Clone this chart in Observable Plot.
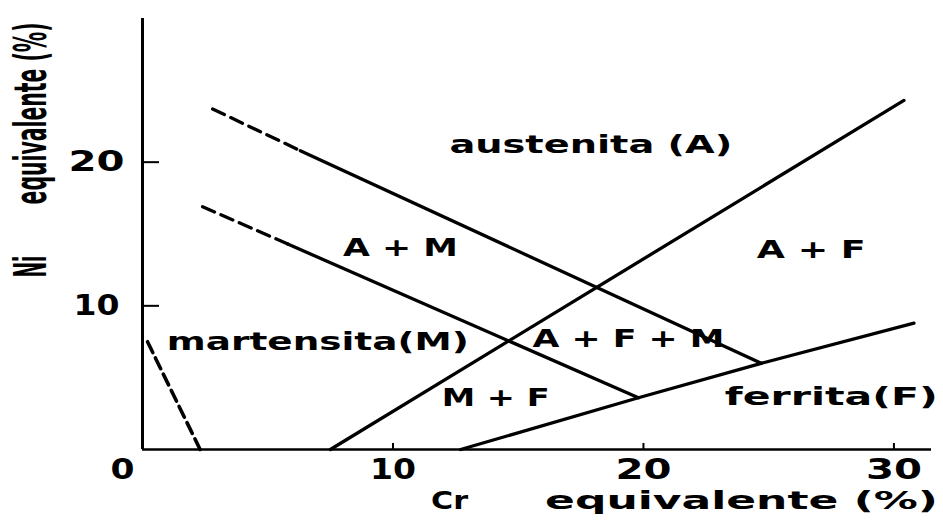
<!DOCTYPE html>
<html>
<head>
<meta charset="utf-8">
<script src="https://cdn.jsdelivr.net/npm/d3@7"></script>
<script src="https://cdn.jsdelivr.net/npm/@observablehq/plot@0.6"></script>
<style>
  html, body { margin: 0; padding: 0; background: #fff; }
</style>
</head>
<body>
<div id="chart"></div>
<script>
// Schaeffler-type constitution diagram: Cr equivalent vs Ni equivalent (%)

// Phase boundaries (Cr eq %, Ni eq %)
const austeniteDashedCr = [2.8, 6.3];
const austeniteDashedNi = [23.7, 20.8];
const austeniteCr = [6.3, 24.7];
const austeniteNi = [20.8, 6.0];

const martensiteDashedCr = [2.4, 5.8];
const martensiteDashedNi = [16.9, 14.3];
const martensiteCr = [5.8, 19.8];
const martensiteNi = [14.3, 3.6];

const ferriteOnsetCr = [7.5, 30.4];
const ferriteOnsetNi = [0, 24.3];

const ferriteCr = [12.7, 19.8, 24.7, 30.8];
const ferriteNi = [0, 3.6, 6.0, 8.8];

const lowNiDashedCr = [0.2, 2.3];
const lowNiDashedNi = [7.5, 0];

// Phase fields
const regionNames = ["austenita (A)", "A + M", "A + F", "martensita(M)", "A + F + M", "M + F", "ferrita(F)"];
const regionCr = [17.9, 10.3, 26.7, 7.0, 19.4, 14.1, 27.5];
const regionNi = [21.2, 14.0, 13.85, 7.45, 7.7, 3.55, 3.6];

// Axis ticks
const crTicks = [0, 10, 20, 30];
const niTicks = [10, 20];

const pts = (xs, ys) => xs.map((cr, i) => ({cr, ni: ys[i]}));
const regions = regionNames.map((name, i) => ({name, cr: regionCr[i], ni: regionNi[i]}));

const W = 943, H = 522;
const M = {left: 142, right: 12, top: 18, bottom: 73};
const plotW = W - M.left - M.right;
const plotH = H - M.top - M.bottom;
const FONT = "DejaVu Sans, Verdana, sans-serif";

const solid = {x: "cr", y: "ni", stroke: "#000", strokeWidth: 3.3};
const dashed = {...solid, strokeDasharray: "13,7"};

const svg = Plot.plot({
  width: W,
  height: H,
  marginLeft: M.left,
  marginRight: M.right,
  marginTop: M.top,
  marginBottom: M.bottom,
  style: {fontFamily: FONT, background: "#fff", color: "#000"},
  x: {domain: [0, 31.5], axis: null},
  y: {domain: [0, 30], axis: null},
  marks: [
    // axes
    Plot.ruleX([0], {stroke: "#000", strokeWidth: 3}),
    Plot.ruleY([0], {stroke: "#000", strokeWidth: 2.6}),
    Plot.tickY(niTicks, {y: d => d, insetRight: plotW - 17, stroke: "#000", strokeWidth: 2}),
    Plot.tickX(crTicks.filter(d => d > 0), {x: d => d, insetTop: plotH - 6, stroke: "#000", strokeWidth: 2}),

    // boundaries
    Plot.line(pts(austeniteDashedCr, austeniteDashedNi), dashed),
    Plot.line(pts(austeniteCr, austeniteNi), solid),
    Plot.line(pts(martensiteDashedCr, martensiteDashedNi), dashed),
    Plot.line(pts(martensiteCr, martensiteNi), solid),
    Plot.line(pts(ferriteOnsetCr, ferriteOnsetNi), solid),
    Plot.line(pts(ferriteCr, ferriteNi), solid),
    Plot.line(pts(lowNiDashedCr, lowNiDashedNi), {...dashed, strokeDasharray: "12,6", strokeWidth: 3.6}),

    // phase-field names
    Plot.text(regions, {x: "cr", y: "ni", text: "name", fontSize: 24, fontWeight: "bold", fill: "#000"}),

    // tick labels
    Plot.text([0], {x: d => d, text: d => String(d), frameAnchor: "bottom", dy: 21, dx: -20,
      fontSize: 28, fontWeight: "bold", lineAnchor: "middle"}),
    Plot.text(crTicks.filter(d => d > 0), {x: d => d, text: d => String(d), frameAnchor: "bottom", dy: 21,
      fontSize: 28, fontWeight: "bold", lineAnchor: "middle"}),
    Plot.text(niTicks, {y: d => d, text: d => String(d), frameAnchor: "left", dx: -46,
      fontSize: 28, fontWeight: "bold", textAnchor: "middle"}),

    // axis titles
    Plot.text(["Cr"], {text: d => d, frameAnchor: "top-left", dx: 449 - M.left, dy: 500 - M.top,
      lineAnchor: "middle", textAnchor: "middle", fontSize: 25, fontWeight: "bold"}),
    Plot.text(["equivalente (%)"], {text: d => d, frameAnchor: "top-left", dx: 741 - M.left, dy: 500 - M.top,
      lineAnchor: "middle", textAnchor: "middle", fontSize: 25, fontWeight: "bold"}),
    Plot.text(["Ni"], {text: d => d, frameAnchor: "top-left", dx: 31 - M.left, dy: 266 - M.top, rotate: -90,
      lineAnchor: "middle", textAnchor: "middle", fontSize: 44, fontWeight: "bold"}),
    Plot.text(["equivalente (%)"], {text: d => d, frameAnchor: "top-left", dx: 31 - M.left, dy: 113 - M.top, rotate: -90,
      lineAnchor: "middle", textAnchor: "middle", fontSize: 44, fontWeight: "bold"})
  ]
});

document.getElementById("chart").appendChild(svg);

// Wide (or, on the Ni axis, tall and narrow) lettering: scale each label
// along its baseline so it covers its printed span
const spans = new Map([
  ["austenita (A)", 283], ["A + M", 115], ["A + F", 109], ["martensita(M)", 302],
  ["A + F + M", 192], ["M + F", 108], ["ferrita(F)", 213],
  ["0", 24], ["10", 46], ["20", 56], ["30", 56],
  ["Cr", 37], ["equivalente (%)", 393], ["Ni", 22]
]);
d3.select(svg).selectAll("text").each(function () {
  const t = this.textContent;
  const tr = this.getAttribute("transform") || "";
  let len = spans.get(t);
  if (tr.includes("rotate") && t === "equivalente (%)") len = 182;
  if (!len) return;
  const natural = this.getComputedTextLength();
  if (natural > 0) this.setAttribute("transform", `${tr} scale(${len / natural},1)`);
});
</script>
</body>
</html>
